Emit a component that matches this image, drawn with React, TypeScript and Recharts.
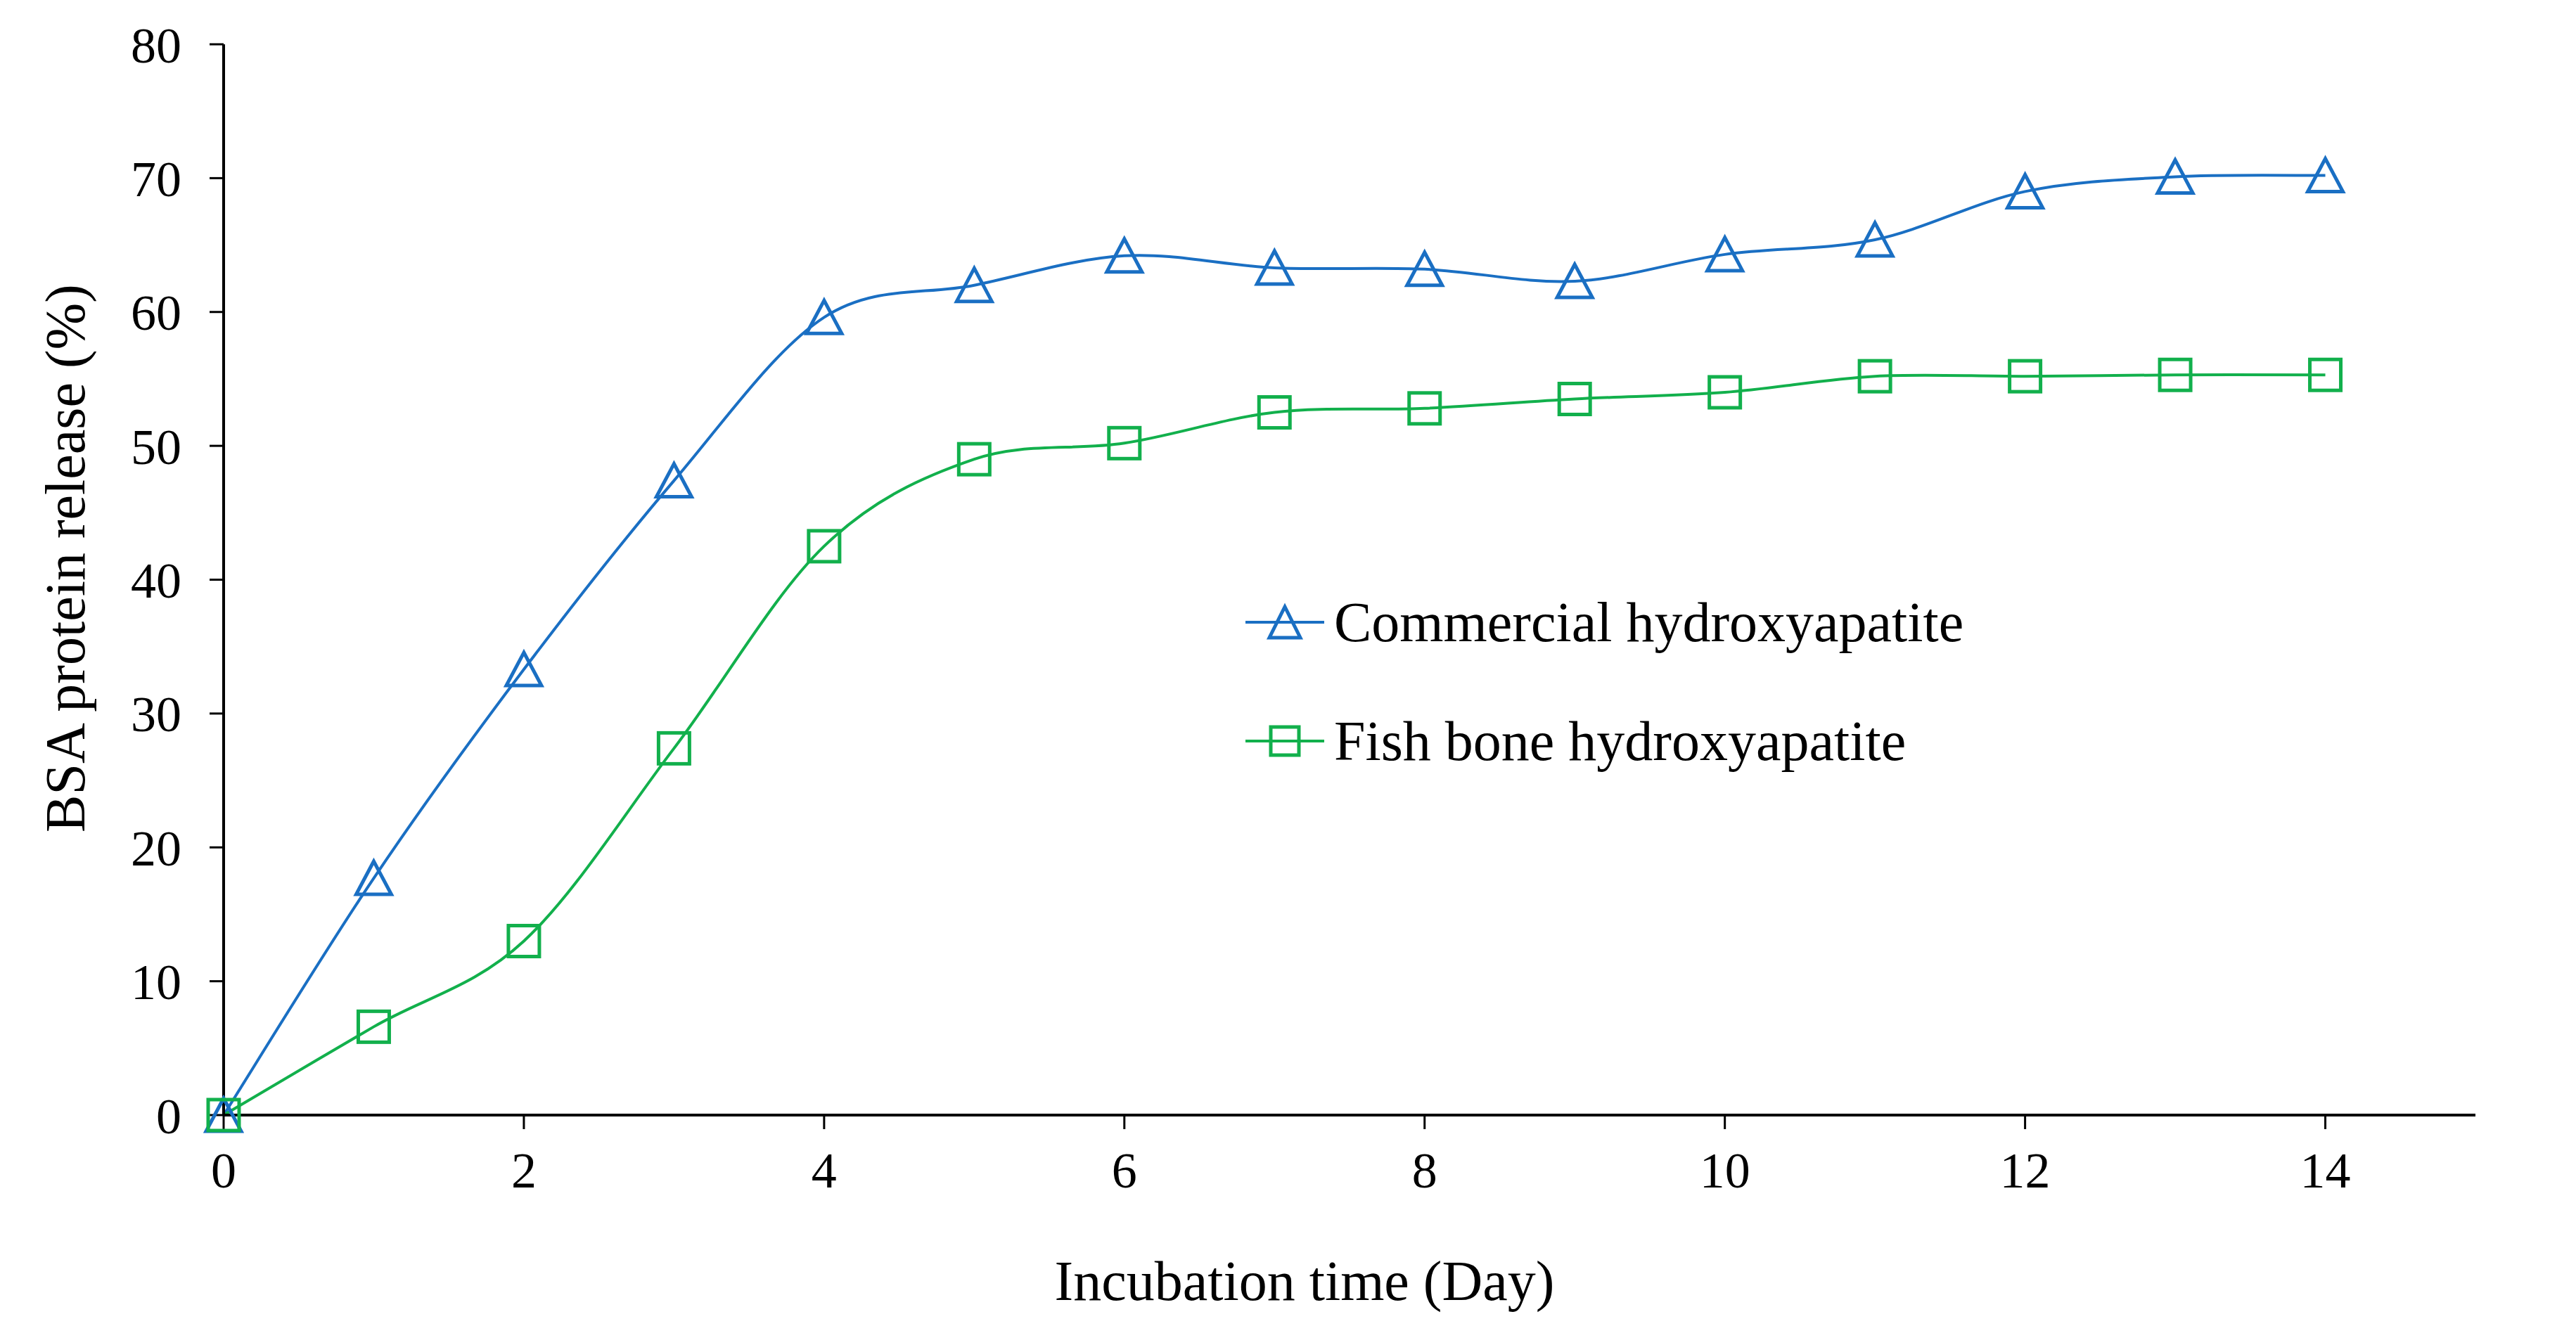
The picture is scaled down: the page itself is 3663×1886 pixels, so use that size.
import React from 'react';
import { Legend, Line, LineChart, XAxis, YAxis } from 'recharts';

const days = [0, 1, 2, 3, 4, 5, 6, 7, 8, 9, 10, 11, 12, 13, 14];
const commercial = [0, 17.7, 33.3, 47.4, 59.6, 62.0, 64.2, 63.3, 63.2, 62.3, 64.3, 65.4, 69.0, 70.1, 70.2];
const fishBone = [0, 6.6, 13.0, 27.4, 42.5, 49.0, 50.2, 52.5, 52.8, 53.5, 54.0, 55.2, 55.2, 55.3, 55.3];
const xTicks = [0, 2, 4, 6, 8, 10, 12, 14];
const yTicks = [0, 10, 20, 30, 40, 50, 60, 70, 80];

const BLUE = '#1a6fc3';
const GREEN = '#12b04c';
const FONT = '"Liberation Serif", "Times New Roman", serif';

const chartData = days.map((d, i) => ({ day: d, commercial: commercial[i], fishBone: fishBone[i] }));

// Excel-style smoothed line (Catmull-Rom through every point)
const smoothCurve = (context: any) => {
  let pts: number[][] = [];
  return {
    areaStart() {},
    areaEnd() {},
    lineStart() {
      pts = [];
    },
    point(x: number, y: number) {
      pts.push([+x, +y]);
    },
    lineEnd() {
      if (!pts.length) return;
      context.moveTo(pts[0][0], pts[0][1]);
      for (let i = 0; i < pts.length - 1; i++) {
        const p0 = pts[i - 1] || pts[i];
        const p1 = pts[i];
        const p2 = pts[i + 1];
        const p3 = pts[i + 2] || p2;
        context.bezierCurveTo(
          p1[0] + (p2[0] - p0[0]) / 6,
          p1[1] + (p2[1] - p0[1]) / 6,
          p2[0] - (p3[0] - p1[0]) / 6,
          p2[1] - (p3[1] - p1[1]) / 6,
          p2[0],
          p2[1],
        );
      }
    },
  };
};

const TriangleDot = (props: any) => {
  const { cx, cy, index } = props;
  if (cx == null || cy == null) return null;
  return (
    <polygon
      key={`t-${index}`}
      points={`${cx},${cy - 24} ${cx - 25},${cy + 23} ${cx + 25},${cy + 23}`}
      fill="none"
      stroke={BLUE}
      strokeWidth={5}
    />
  );
};

const SquareDot = (props: any) => {
  const { cx, cy, index } = props;
  if (cx == null || cy == null) return null;
  return (
    <rect key={`s-${index}`} x={cx - 22} y={cy - 22} width={44} height={44} fill="none" stroke={GREEN} strokeWidth={5} />
  );
};

const LegendContent = ({ payload }: any) => (
  <div>
    {(payload || []).map((entry: any) => (
      <div key={entry.value} style={{ display: 'flex', alignItems: 'center', height: 100, marginBottom: 69 }}>
        <svg width={126} height={60}>
          <line x1={0} y1={30} x2={112} y2={30} stroke={entry.color} strokeWidth={4} />
          {entry.dataKey === 'commercial' ? (
            <polygon points="56,8 34,52 78,52" fill="none" stroke={entry.color} strokeWidth={5} />
          ) : (
            <rect x={36} y={10} width={40} height={40} fill="none" stroke={entry.color} strokeWidth={5} />
          )}
        </svg>
        <span style={{ fontFamily: FONT, fontSize: 80, color: '#000', whiteSpace: 'nowrap' }}>{entry.value}</span>
      </div>
    ))}
  </div>
);

export default function App() {
  return (
    <div style={{ position: 'absolute', left: 0, top: 0, width: 3663, height: 1886, background: '#fff' }}>
      <LineChart width={3663} height={1886} data={chartData} margin={{ top: 63, right: 143, bottom: 100, left: 118 }}>
        <XAxis
          dataKey="day"
          type="number"
          domain={[0, 15]}
          ticks={xTicks}
          height={200}
          tickSize={20}
          tickMargin={32}
          axisLine={{ stroke: '#000', strokeWidth: 4 }}
          tickLine={{ stroke: '#000', strokeWidth: 3 }}
          tick={{ fill: '#000', fontSize: 72, fontFamily: FONT }}
          label={{
            content: () => (
              <text x={1855} y={1822} textAnchor="middle" dominantBaseline="central" fontFamily={FONT} fontSize={80} fill="#000">
                Incubation time (Day)
              </text>
            ),
          }}
        />
        <YAxis
          type="number"
          domain={[0, 80]}
          ticks={yTicks}
          width={200}
          tickSize={20}
          tickMargin={40}
          axisLine={{ stroke: '#000', strokeWidth: 4 }}
          tickLine={{ stroke: '#000', strokeWidth: 3 }}
          tick={{ fill: '#000', fontSize: 72, fontFamily: FONT }}
          label={{
            content: () => (
              <text
                x={93}
                y={794}
                transform="rotate(-90 93 794)"
                textAnchor="middle"
                dominantBaseline="central"
                fontFamily={FONT}
                fontSize={80}
                fill="#000"
              >
                BSA protein release (%)
              </text>
            ),
          }}
        />
        <Legend
          layout="vertical"
          align="center"
          verticalAlign="middle"
          width={1300}
          content={<LegendContent />}
          wrapperStyle={{ left: 1771, top: 835 }}
        />
        <Line
          dataKey="commercial"
          name="Commercial hydroxyapatite"
          type={smoothCurve as any}
          stroke={BLUE}
          strokeWidth={4}
          dot={<TriangleDot />}
          activeDot={false}
          isAnimationActive={false}
        />
        <Line
          dataKey="fishBone"
          name="Fish bone hydroxyapatite"
          type={smoothCurve as any}
          stroke={GREEN}
          strokeWidth={4}
          dot={<SquareDot />}
          activeDot={false}
          isAnimationActive={false}
        />
      </LineChart>
    </div>
  );
}
